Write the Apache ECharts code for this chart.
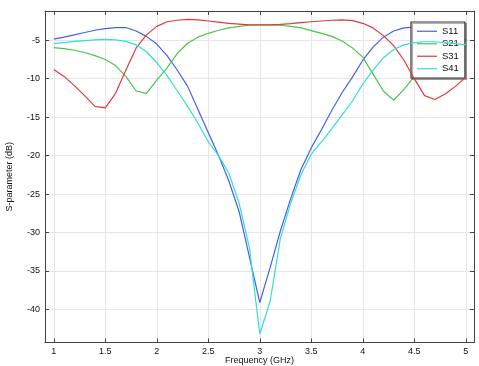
<!DOCTYPE html>
<html>
<head>
<meta charset="utf-8">
<script src="https://cdn.jsdelivr.net/npm/echarts@6/dist/echarts.min.js"></script>
<style>
html,body{margin:0;padding:0;background:#fff;}
#chart{width:479px;height:366px;}
</style>
</head>
<body>
<div id="chart"></div>
<script>
var freq = [1.0,1.1,1.2,1.3,1.4,1.5,1.6,1.7,1.8,1.9,2.0,2.1,2.2,2.3,2.4,2.5,2.6,2.7,2.8,2.9,3.0,
            3.1,3.2,3.3,3.4,3.5,3.6,3.7,3.8,3.9,4.0,4.1,4.2,4.3,4.4,4.5,4.6,4.7,4.8,4.9,5.0];
var s11 = [-4.85,-4.6,-4.3,-4.0,-3.7,-3.5,-3.35,-3.35,-3.8,-4.5,-5.5,-7.0,-8.9,-11.0,-14.0,-17.0,-20.0,-23.3,-27.3,-33.2,-39.1,
           -34.6,-29.8,-25.6,-21.8,-19.0,-16.6,-14.1,-11.8,-9.8,-7.6,-5.9,-4.6,-3.8,-3.4,-3.3,-3.45,-3.7,-4.1,-4.5,-4.95];
var s21 = [-5.95,-6.1,-6.3,-6.6,-7.0,-7.5,-8.3,-9.7,-11.6,-11.9,-10.2,-8.6,-6.7,-5.4,-4.6,-4.1,-3.7,-3.4,-3.2,-3.05,-3.0,
           -3.0,-3.05,-3.2,-3.4,-3.75,-4.1,-4.5,-5.1,-6.0,-7.2,-9.4,-11.6,-12.8,-11.4,-9.7,-8.2,-7.2,-6.6,-6.1,-5.8];
var s31 = [-8.8,-9.7,-10.9,-12.2,-13.6,-13.8,-11.9,-8.9,-6.0,-4.3,-3.2,-2.6,-2.4,-2.3,-2.35,-2.5,-2.65,-2.8,-2.9,-3.0,-3.0,
           -3.0,-2.95,-2.85,-2.7,-2.6,-2.5,-2.4,-2.35,-2.45,-2.8,-3.4,-4.4,-5.7,-7.6,-10.0,-12.2,-12.7,-12.0,-11.0,-9.8];
var s41 = [-5.45,-5.3,-5.15,-5.05,-4.95,-4.9,-4.95,-5.15,-5.6,-6.5,-7.9,-9.6,-11.6,-13.6,-15.8,-18.2,-20.0,-22.3,-26.2,-32.0,-43.2,
           -39.0,-30.8,-26.2,-22.5,-19.8,-18.2,-16.5,-14.7,-12.9,-10.7,-8.9,-7.3,-6.2,-5.6,-5.3,-5.2,-5.2,-5.3,-5.45,-5.6];
var seriesNames = ['S11','S21','S31','S41'];
var seriesColors = ['#4560f0','#4cc44c','#e03a3a','#35dcdc'];
var xTitle = 'Frequency (GHz)';
var yTitle = 'S-parameter (dB)';

function pairs(ys){ return freq.map(function(f,i){ return [f, ys[i]]; }); }
var allData = [s11,s21,s31,s41];

var font = 'Liberation Sans, Arial, sans-serif';
var xMin = 0.915, xMax = 5.08, yMin = -44.3, yMax = -1.2;

var chart = echarts.init(document.getElementById('chart'), null, {renderer:'canvas'});
var option = {
  animation: false,
  backgroundColor: '#fff',
  grid: {left: 45, right: 5, top: 11, bottom: 23.5, containLabel: false, outerBoundsMode: 'none'},
  legend: {
    orient: 'vertical',
    left: 411, top: 22,
    data: seriesNames.map(function(n){ return {name:n, icon:'rect'}; }),
    itemWidth: 20, itemHeight: 1.2, itemGap: 0,
    padding: [3,6,3,6],
    backgroundColor: '#fff',
    borderColor: '#333', borderWidth: 1.2,
    shadowColor: 'rgba(0,0,0,0.3)', shadowBlur: 0, shadowOffsetX: 1.5, shadowOffsetY: 1.5,
    textStyle: {fontFamily: font, fontSize: 9.5, color: '#111', lineHeight: 12.5, padding: [0,0,0,0]}
  },
  xAxis: [{
    type: 'value', min: xMin, max: xMax, splitNumber: 8,
    name: xTitle, nameLocation: 'middle', nameGap: 14, nameMoveOverlap: false,
    nameTextStyle: {fontFamily: font, fontSize: 9, color: '#111'},
    axisLine: {show: true, onZero: false, lineStyle: {color: '#444', width: 1}},
    axisTick: {show: true, inside: true, length: 4, lineStyle: {color: '#444'}},
    axisLabel: {fontFamily: font, fontSize: 9, color: '#111', margin: 5, showMinLabel: false, showMaxLabel: false},
    splitLine: {show: true, lineStyle: {color: '#e6e6e6', width: 1}}
  },{
    type: 'value', min: xMin, max: xMax, splitNumber: 8, position: 'top',
    axisLine: {show: true, onZero: false, lineStyle: {color: '#444', width: 1}},
    axisTick: {show: true, inside: true, length: 4, lineStyle: {color: '#444'}},
    axisLabel: {show: false}, splitLine: {show: false}
  }],
  yAxis: [{
    type: 'value', min: yMin, max: yMax, splitNumber: 8,
    name: yTitle, nameLocation: 'middle', nameGap: 31, nameRotate: 90, nameMoveOverlap: false,
    nameTextStyle: {fontFamily: font, fontSize: 9, color: '#111'},
    axisLine: {show: true, onZero: false, lineStyle: {color: '#444', width: 1}},
    axisTick: {show: true, inside: true, length: 4, lineStyle: {color: '#444'}},
    axisLabel: {fontFamily: font, fontSize: 9, color: '#111', margin: 5, showMinLabel: false, showMaxLabel: false},
    splitLine: {show: true, lineStyle: {color: '#e6e6e6', width: 1}}
  },{
    type: 'value', min: yMin, max: yMax, splitNumber: 8, position: 'right',
    axisLine: {show: true, onZero: false, lineStyle: {color: '#444', width: 1}},
    axisTick: {show: true, inside: true, length: 4, lineStyle: {color: '#444'}},
    axisLabel: {show: false}, splitLine: {show: false}
  }],
  series: seriesNames.map(function(n,i){
    return {
      name: n, type: 'line', xAxisIndex: 0, yAxisIndex: 0,
      data: pairs(allData[i]), showSymbol: false, symbol: 'none',
      lineStyle: {color: seriesColors[i], width: 1.2},
      itemStyle: {color: seriesColors[i]},
      z: 2 + i
    };
  })
};
chart.setOption(option);
</script>
</body>
</html>
